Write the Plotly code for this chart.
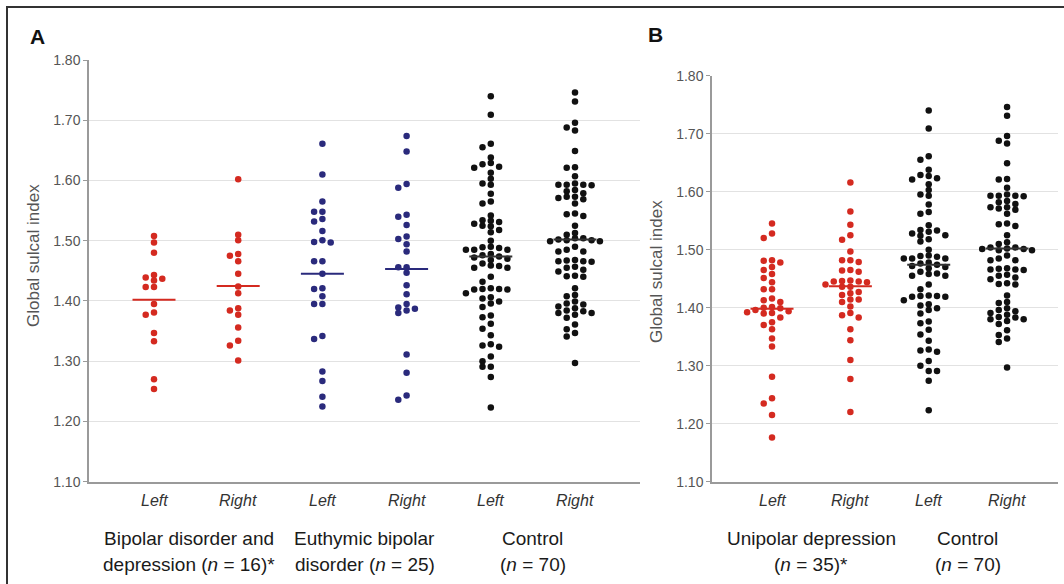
import numpy as np
import plotly.graph_objects as go

W, H = 1064, 584

side_labels = ["Left", "Right"]
y_ticks = [1.10, 1.20, 1.30, 1.40, 1.50, 1.60, 1.70, 1.80]

# ---------------- Panel A data ----------------
a_group_line1 = ["Bipolar disorder and", "Euthymic bipolar", "Control"]
a_group_line2 = ["depression (<i>n</i> = 16)*", "disorder (<i>n</i> = 25)", "(<i>n</i> = 70)"]

bdd_left = [1.508, 1.497, 1.480, 1.443, 1.439, 1.437, 1.434, 1.423, 1.423, 1.395,
            1.381, 1.377, 1.347, 1.333, 1.270, 1.254]
bdd_right = [1.602, 1.510, 1.501, 1.478, 1.475, 1.466, 1.445, 1.424, 1.413, 1.388,
             1.384, 1.377, 1.356, 1.334, 1.326, 1.301]
ebd_left = [1.661, 1.610, 1.565, 1.548, 1.548, 1.536, 1.532, 1.516, 1.498, 1.497,
            1.501, 1.466, 1.466, 1.445, 1.420, 1.421, 1.408, 1.395, 1.395, 1.337,
            1.342, 1.283, 1.267, 1.241, 1.225]
ebd_right = [1.674, 1.648, 1.588, 1.594, 1.543, 1.540, 1.526, 1.507, 1.503, 1.494,
             1.482, 1.456, 1.447, 1.456, 1.426, 1.411, 1.389, 1.384, 1.380, 1.387,
             1.395, 1.311, 1.281, 1.236, 1.243]
ctl_left = [1.740, 1.709, 1.661, 1.655, 1.638, 1.627, 1.621, 1.623, 1.629, 1.613,
            1.603, 1.593, 1.595, 1.578, 1.565, 1.562, 1.542, 1.525, 1.534, 1.531,
            1.533, 1.528, 1.518, 1.514, 1.524, 1.500, 1.485, 1.489, 1.488, 1.485,
            1.490, 1.485, 1.474, 1.472, 1.470, 1.476, 1.468, 1.478, 1.462, 1.459,
            1.455, 1.455, 1.458, 1.440, 1.432, 1.420, 1.419, 1.421, 1.419, 1.420,
            1.413, 1.404, 1.396, 1.399, 1.406, 1.390, 1.376, 1.373, 1.362, 1.354,
            1.343, 1.324, 1.326, 1.328, 1.300, 1.308, 1.291, 1.291, 1.274, 1.223]
ctl_right = [1.746, 1.731, 1.696, 1.683, 1.688, 1.649, 1.622, 1.621, 1.607, 1.593,
             1.592, 1.595, 1.593, 1.593, 1.582, 1.579, 1.584, 1.573, 1.571, 1.562,
             1.569, 1.573, 1.544, 1.541, 1.545, 1.525, 1.513, 1.510, 1.502, 1.504,
             1.501, 1.504, 1.501, 1.499, 1.499, 1.485, 1.482, 1.482, 1.490, 1.466,
             1.467, 1.465, 1.466, 1.468, 1.457, 1.455, 1.452, 1.449, 1.441, 1.440,
             1.442, 1.421, 1.410, 1.408, 1.399, 1.396, 1.394, 1.391, 1.388, 1.384,
             1.380, 1.377, 1.383, 1.380, 1.372, 1.361, 1.347, 1.353, 1.341, 1.297]
a_means = [1.402, 1.425, 1.445, 1.453, 1.474, 1.502]

# ---------------- Panel B data ----------------
b_group_line1 = ["Unipolar depression", "Control"]
b_group_line2 = ["(<i>n</i> = 35)*", "(<i>n</i> = 70)"]

ud_left = [1.545, 1.528, 1.520, 1.481, 1.478, 1.482, 1.470, 1.465, 1.458, 1.451,
           1.444, 1.432, 1.432, 1.416, 1.410, 1.413, 1.401, 1.400, 1.399, 1.392,
           1.391, 1.390, 1.396, 1.394, 1.370, 1.383, 1.375, 1.363, 1.347, 1.333,
           1.281, 1.244, 1.235, 1.215, 1.176]
ud_right = [1.616, 1.566, 1.543, 1.517, 1.525, 1.497, 1.482, 1.479, 1.482, 1.465,
            1.464, 1.462, 1.445, 1.446, 1.444, 1.445, 1.447, 1.440, 1.436, 1.436,
            1.425, 1.422, 1.427, 1.414, 1.410, 1.414, 1.402, 1.387, 1.383, 1.391,
            1.363, 1.344, 1.310, 1.277, 1.220]
b_means = [1.398, 1.437, 1.474, 1.502]

RED = "#d42a20"
BLUE = "#2a2a7c"
BLACK = "#111111"
GRAY_LINE = "#9a9a9a"
FONT = "Liberation Sans, Arial, sans-serif"

# pixel geometry of the two panels
A_X0, A_X1, A_Y0, A_Y1 = 89, 640, 60, 481.7
B_X0, B_X1, B_Y0, B_Y1 = 712, 1058, 75.7, 481.7
A_XRANGE = [-0.772, 5.772]
B_XRANGE = [-0.766, 3.65]


def swarm(values, px_per_unit, px_per_cat, step_px=8.3, diam_px=5.4):
    vals = np.asarray(values, dtype=float)
    order = np.argsort(-vals, kind="stable")
    placed = []
    offs = np.zeros(len(vals))
    cands = [0]
    for j in range(1, 12):
        cands += [-j, j]
    for i in order:
        y = vals[i] * px_per_unit
        for c in cands:
            ok = True
            for (py, pc) in placed:
                if pc == c and abs(py - y) < diam_px:
                    ok = False
                    break
            if ok:
                break
        placed.append((y, c))
        offs[i] = c * step_px / px_per_cat
    return offs


def px2xf(px):
    return px / W


def px2yf(py):
    return 1 - py / H


fig = go.Figure()

a_series = [bdd_left, bdd_right, ebd_left, ebd_right, ctl_left, ctl_right]
a_colors = [RED, RED, BLUE, BLUE, BLACK, BLACK]
a_mean_colors = [RED, RED, BLUE, BLUE, "#333333", "#333333"]
a_ppu = (A_Y1 - A_Y0) / 0.7
a_ppc = (A_X1 - A_X0) / (A_XRANGE[1] - A_XRANGE[0])
for i, (vals, col) in enumerate(zip(a_series, a_colors)):
    offs = swarm(vals, a_ppu, a_ppc)
    fig.add_trace(go.Scatter(x=i + offs, y=vals, mode="markers", xaxis="x", yaxis="y",
                             marker=dict(color=col, size=6.5, line=dict(width=0)),
                             showlegend=False, hoverinfo="y"))
    half = 21.5 / a_ppc
    fig.add_trace(go.Scatter(x=[i - half, i + half], y=[a_means[i]] * 2, mode="lines",
                             xaxis="x", yaxis="y", line=dict(color=a_mean_colors[i], width=2),
                             showlegend=False, hoverinfo="skip"))

b_series = [ud_left, ud_right, ctl_left, ctl_right]
b_colors = [RED, RED, BLACK, BLACK]
b_mean_colors = [RED, RED, "#333333", "#333333"]
b_ppu = (B_Y1 - B_Y0) / 0.7
b_ppc = (B_X1 - B_X0) / (B_XRANGE[1] - B_XRANGE[0])
for i, (vals, col) in enumerate(zip(b_series, b_colors)):
    offs = swarm(vals, b_ppu, b_ppc)
    fig.add_trace(go.Scatter(x=i + offs, y=vals, mode="markers", xaxis="x2", yaxis="y2",
                             marker=dict(color=col, size=6.5, line=dict(width=0)),
                             showlegend=False, hoverinfo="y"))
    half = 21.5 / b_ppc
    fig.add_trace(go.Scatter(x=[i - half, i + half], y=[b_means[i]] * 2, mode="lines",
                             xaxis="x2", yaxis="y2", line=dict(color=b_mean_colors[i], width=2),
                             showlegend=False, hoverinfo="skip"))

yaxis_common = dict(range=[1.10, 1.80], tickvals=y_ticks, tickformat=".2f",
                    showgrid=True, gridcolor="#e2e2e2", gridwidth=1,
                    showline=True, linecolor=GRAY_LINE, linewidth=1.5,
                    ticks="outside", ticklen=4, tickcolor=GRAY_LINE,
                    tickfont=dict(family=FONT, size=14, color="#555555"),
                    zeroline=False, fixedrange=True, automargin=False)
xaxis_common = dict(showgrid=False, zeroline=False, showticklabels=False, ticks="",
                    showline=True, linecolor=GRAY_LINE, linewidth=1.5, fixedrange=True,
                    automargin=False)

fig.update_layout(
    template="none",
    width=W, height=H, autosize=False,
    margin=dict(l=0, r=0, t=0, b=0, pad=0, autoexpand=False),
    paper_bgcolor="white", plot_bgcolor="white",
    font=dict(family=FONT),
    showlegend=False,
    xaxis=dict(domain=[px2xf(A_X0), px2xf(A_X1)], range=A_XRANGE, anchor="y", **xaxis_common),
    yaxis=dict(domain=[px2yf(A_Y1), px2yf(A_Y0)], anchor="x", **yaxis_common),
    xaxis2=dict(domain=[px2xf(B_X0), px2xf(B_X1)], range=B_XRANGE, anchor="y2", **xaxis_common),
    yaxis2=dict(domain=[px2yf(B_Y1), px2yf(B_Y0)], anchor="x2", **yaxis_common),
)


def label(text, x, y, xref, size, color, **kw):
    return dict(text=text, x=x, y=y, xref=xref, yref="paper", showarrow=False,
                xanchor="center", yanchor="middle",
                font=dict(family=FONT, size=size, color=color), **kw)


ann = []
ann.append(label("<b>A</b>", px2xf(37), px2yf(36), "paper", 21, "#111111"))
ann.append(label("<b>B</b>", px2xf(655), px2yf(35), "paper", 21, "#111111"))
ann.append(label("Global sulcal index", px2xf(33), px2yf(256), "paper", 17, "#555555", textangle=-90))
ann.append(label("Global sulcal index", px2xf(656), px2yf(272), "paper", 17, "#555555", textangle=-90))

a_group_shift = [-0.08, 0.0, 0.0]
for i in range(len(a_series)):
    ann.append(label("<i>%s</i>" % side_labels[i % 2], i, px2yf(500), "x", 16, "#333333"))
for g in range(len(a_group_line1)):
    gx = 2 * g + 0.5 + a_group_shift[g]
    ann.append(label(a_group_line1[g], gx, px2yf(538), "x", 19, "#1a1a1a"))
    ann.append(label(a_group_line2[g], gx, px2yf(564), "x", 19, "#1a1a1a"))
for i in range(len(b_series)):
    ann.append(label("<i>%s</i>" % side_labels[i % 2], i, px2yf(500), "x2", 16, "#333333"))
for g in range(len(b_group_line1)):
    gx = 2 * g + 0.5
    ann.append(label(b_group_line1[g], gx, px2yf(538), "x2", 19, "#1a1a1a"))
    ann.append(label(b_group_line2[g], gx, px2yf(564), "x2", 19, "#1a1a1a"))

fig.update_layout(annotations=ann)

# outer frame
fig.add_shape(type="rect", xref="paper", yref="paper",
              x0=px2xf(7), x1=1.02, y0=-0.05, y1=px2yf(7),
              line=dict(color="#333333", width=2), fillcolor="rgba(0,0,0,0)")

fig.write_html("out.html", config={"displayModeBar": False, "responsive": False},
               post_script="document.body.style.margin='0px';")
